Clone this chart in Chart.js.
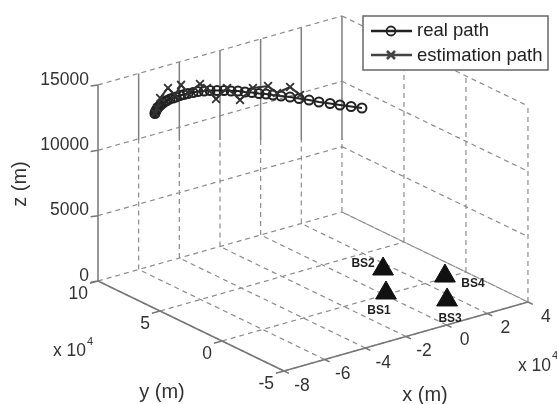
<!DOCTYPE html>
<html>
<head>
<meta charset="utf-8">
<title>real path and estimation path</title>
<script src="https://cdn.jsdelivr.net/npm/chart.js"></script>
<style>
  html, body { margin: 0; padding: 0; background: #fff; }
  #wrap { width: 557px; height: 404px; }
  canvas { display: block; filter: blur(0.4px); }
</style>
</head>
<body>
<div id="wrap"><canvas id="chart" width="557" height="404"></canvas></div>
<script>
// axis ticks (x and y in units of 10^4 m)
const xTicks = [-8, -6, -4, -2, 0, 2, 4];
const yTicks = [-5, 0, 5, 10];
const zTicks = [0, 5000, 10000, 15000];

// path
const realX = [-5.97, -5.86, -5.74, -5.62, -5.49, -5.35, -5.20, -5.05, -4.89, -4.76, -4.57, -4.41, -4.26, -4.04, -3.85, -3.66, -3.44, -3.22, -3.00, -2.78, -2.57, -2.35, -2.16, -1.95, -1.79, -1.61, -1.46, -1.27, -1.12, -0.93, -0.72, -0.53, -0.32, -0.14, 0.11, 0.32, 0.57, 0.81];
const realY = [8.74, 8.88, 9.02, 9.15, 9.28, 9.39, 9.50, 9.60, 9.70, 9.75, 9.82, 9.83, 9.85, 9.89, 9.87, 9.86, 9.81, 9.77, 9.64, 9.52, 9.31, 9.10, 8.84, 8.63, 8.32, 8.06, 7.74, 7.48, 7.17, 6.83, 6.45, 6.03, 5.57, 5.07, 4.58, 4.13, 3.64, 3.16];
const realZ = [12500, 12500, 12500, 12500, 12500, 12500, 12500, 12500, 12500, 12500, 12500, 12500, 12500, 12500, 12500, 12500, 12500, 12500, 12500, 12500, 12500, 12500, 12500, 12500, 12500, 12500, 12500, 12500, 12500, 12500, 12500, 12500, 12500, 12500, 12500, 12500, 12500, 12500];

const estX = [-5.93, -5.55, -5.23, -5.18, -4.58, -4.58, -4.04, -3.93, -3.13, -3.14, -2.51, -2.46, -1.71, -1.11, -1.28, -0.49, -0.70];
const estY = [8.79, 9.25, 9.53, 8.98, 9.40, 8.91, 9.23, 8.45, 9.19, 8.45, 8.59, 7.63, 7.82, 7.58, 6.58, 6.82, 5.68];
const estZ = [12500, 12500, 13000, 14000, 13000, 14000, 13000, 14000, 13000, 12500, 13000, 12500, 13000, 13000, 13000, 13000, 13000];

// base stations, on the floor
const bsNames = ["BS1", "BS2", "BS3", "BS4"];
const bsX = [0.17, 1.62, 1.62, 3.09];
const bsY = [0.17, 2.78, -2.38, 0.20];
const bsZ = [0, 0, 0, 0];

// where the back wall verticals change from solid to dashed (x = -6 .. 4)
const wallSolidFromZ = [9910, 9030, 8150, 7270, 6390, 5510];

const xMin = -8, xMax = 4, yMin = -5, yMax = 10, zMin = 0, zMax = 15000;

// oblique view of the box, the hidden scales below run in page units
function project(x, y, z) {
  return {
    x: 284 + (x - xMin) * 20.33 - (y - yMin) * 12.4,
    y: 371 - (x - xMin) * 5.75 - (y - yMin) * 6 - z * 0.01307,
  };
}

const gap = { x: NaN, y: NaN };

function seg(list, a, b) {
  list.push(project(a[0], a[1], a[2]), project(b[0], b[1], b[2]), gap);
}

const dashed = [], solid = [], axes = [];

zTicks.forEach((z) => {
  seg(dashed, [xMin, yMax, z], [xMax, yMax, z]);
  seg(dashed, [xMax, yMax, z], [xMax, yMin, z]);
  seg(axes, [xMin, yMax, z], [xMin - 0.3, yMax + 0.1, z]);
});
xTicks.forEach((x) => {
  seg(dashed, [x, yMin, 0], [x, yMax, 0]);
  seg(axes, [x, yMin, 0], [x, yMin - 0.4, 0]);
});
yTicks.forEach((y) => {
  seg(dashed, [xMin, y, 0], [xMax, y, 0]);
  seg(axes, [xMin, y, 0], [xMin - 0.4, y, 0]);
});
xTicks.slice(1).forEach((x, i) => {
  seg(dashed, [x, yMax, 0], [x, yMax, wallSolidFromZ[i]]);
  seg(solid, [x, yMax, wallSolidFromZ[i]], [x, yMax, zMax]);
});
yTicks.slice(0, 3).forEach((y) => {
  seg(dashed, [xMax, y, 0], [xMax, y, zMax]);
});
seg(axes, [xMin, yMax, zMin], [xMin, yMax, zMax]);
seg(axes, [xMin, yMax, zMin], [xMin, yMin, zMin]);
seg(axes, [xMin, yMin, zMin], [xMax, yMin, zMin]);

function track(xs, ys, zs) {
  return xs.map((x, i) => project(x, ys[i], zs[i]));
}

function line(data, color, width, dash) {
  return { data, borderColor: color, borderWidth: width, borderDash: dash || [], showLine: true, pointRadius: 0, pointHoverRadius: 0, spanGaps: false, tension: 0 };
}

function put(ctx, text, x, y, size, align, weight) {
  ctx.font = (weight || "normal") + " " + size + "px 'Liberation Sans', Arial, sans-serif";
  ctx.textAlign = align || "center";
  ctx.textBaseline = "middle";
  ctx.fillText(text, x, y);
}

const textPlugin = {
  id: "boxText",
  afterDatasetsDraw(chart) {
    const ctx = chart.ctx;
    const sx = chart.scales.x, sy = chart.scales.y;
    const at = (x, y, z) => {
      const p = project(x, y, z);
      return { x: sx.getPixelForValue(p.x), y: sy.getPixelForValue(p.y) };
    };
    ctx.save();
    ctx.fillStyle = "#333";

    xTicks.forEach((t) => {
      const p = at(t, yMin, 0);
      put(ctx, String(t), p.x + 18, p.y + 15, 17.5);
    });
    yTicks.forEach((t) => {
      const p = at(xMin, t, 0);
      put(ctx, String(t), p.x - 10, p.y + 13, 17.5, "right");
    });
    zTicks.forEach((t) => {
      const p = at(xMin, yMax, t);
      put(ctx, String(t), p.x - 9, p.y - 5, 17.5, "right");
    });

    // exponents
    put(ctx, "x 10", 53, 351, 17.5, "left");
    put(ctx, "4", 87, 342, 11, "left");
    put(ctx, "x 10", 518, 366, 17.5, "left");
    put(ctx, "4", 552, 356, 11, "left");

    // axis titles
    put(ctx, "y (m)", 162, 392, 20);
    put(ctx, "x (m)", 425, 395, 20);
    ctx.save();
    ctx.translate(20, 184);
    ctx.rotate(-Math.PI / 2);
    put(ctx, "z (m)", 0, 0, 20);
    ctx.restore();

    // station names
    ctx.fillStyle = "#222";
    const bsDx = [-7, -20, 3, 28];
    const bsDy = [18, -5, 19, 8];
    bsNames.forEach((n, i) => {
      const p = at(bsX[i], bsY[i], bsZ[i]);
      put(ctx, n, p.x + bsDx[i], p.y + bsDy[i], 12, "center", "bold");
    });

    // legend
    ctx.fillStyle = "#fff";
    ctx.strokeStyle = "#666";
    ctx.lineWidth = 1.5;
    ctx.fillRect(363, 16, 185, 54);
    ctx.strokeRect(363, 16, 185, 54);

    ctx.strokeStyle = "#222";
    ctx.lineWidth = 2.5;
    ctx.beginPath();
    ctx.moveTo(371, 31);
    ctx.lineTo(412, 31);
    ctx.stroke();
    ctx.lineWidth = 1.8;
    ctx.beginPath();
    ctx.arc(391, 31, 4.5, 0, Math.PI * 2);
    ctx.stroke();

    ctx.strokeStyle = "#444";
    ctx.lineWidth = 2.5;
    ctx.beginPath();
    ctx.moveTo(371, 55);
    ctx.lineTo(412, 55);
    ctx.moveTo(387, 51);
    ctx.lineTo(395, 59);
    ctx.moveTo(395, 51);
    ctx.lineTo(387, 59);
    ctx.stroke();

    ctx.fillStyle = "#222";
    put(ctx, "real path", 417, 31, 18.5, "left");
    put(ctx, "estimation path", 417, 56, 18.5, "left");
    ctx.restore();
  },
};

// first dataset ends up on top
new Chart(document.getElementById("chart"), {
  type: "scatter",
  data: {
    datasets: [
      {
        label: "estimation path",
        data: track(estX, estY, estZ),
        showLine: true,
        borderColor: "#333",
        borderWidth: 2,
        pointStyle: "cross",
        pointRotation: 45,
        pointRadius: 5.5,
        pointBorderWidth: 1.8,
        pointBorderColor: "#333",
      },
      {
        label: "real path",
        data: track(realX, realY, realZ),
        showLine: true,
        borderColor: "#222",
        borderWidth: 2,
        pointStyle: "circle",
        pointRadius: 4.5,
        pointBorderWidth: 2,
        pointBorderColor: "#222",
        pointBackgroundColor: "rgba(255,255,255,0)",
      },
      {
        label: "base stations",
        data: track(bsX, bsY, bsZ),
        pointStyle: "triangle",
        pointRadius: 12,
        pointBackgroundColor: "#111",
        pointBorderColor: "#111",
        showLine: false,
      },
      line(axes, "#777777", 1.5),
      line(solid, "#808080", 1.5),
      line(dashed, "#8c8c8c", 1.2, [5, 4]),
    ],
  },
  options: {
    responsive: false,
    animation: false,
    layout: { padding: 0, autoPadding: false },
    plugins: { legend: { display: false }, tooltip: { enabled: false } },
    scales: {
      x: { type: "linear", display: false, min: 0, max: 557 },
      y: { type: "linear", display: false, min: 0, max: 404, reverse: true },
    },
  },
  plugins: [textPlugin],
});
</script>
</body>
</html>
